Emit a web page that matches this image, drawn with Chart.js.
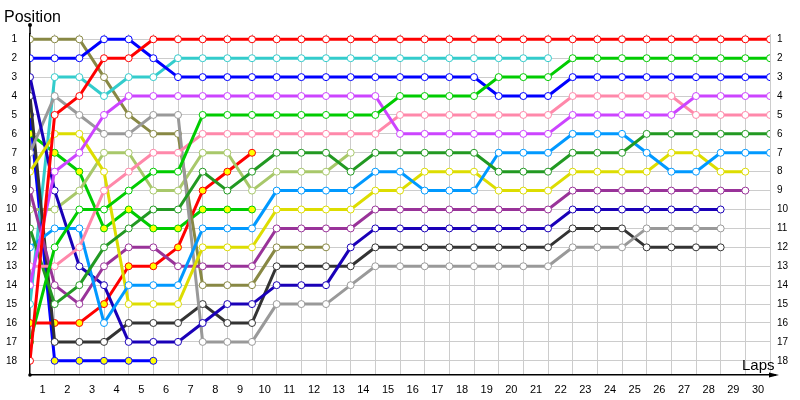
<!DOCTYPE html>
<html lang="en">
<head>
  <meta charset="UTF-8">
  <title>Lap chart</title>
  <script src="https://cdn.jsdelivr.net/npm/chart.js"></script>
  <style>
    html, body { margin: 0; padding: 0; background: #fff; }
    .wrap { width: 800px; height: 400px; }
  </style>
</head>
<body>
  <div class="wrap"><canvas id="lapChart" width="800" height="400"></canvas></div>

  <script>
    // position of each car after every lap (index 0 = grid)
    const lapNumbers = Array.from({ length: 31 }, (_, i) => i)
    const positionTicks = [1, 2, 3, 4, 5, 6, 7, 8, 9, 10, 11, 12, 13, 14, 15, 16, 17, 18]

    const olive = [1, 1, 1, 3, 5, 6, 6, 14, 14, 14, 12, 12, 12]
    const blue = [2, 2, 2, 1, 1, 2, 3, 3, 3, 3, 3, 3, 3, 3, 3, 3, 3, 3, 3, 4, 4, 4, 3, 3, 3, 3, 3, 3, 3, 3, 3]
    const indigo = [3, 9, 13, 14, 17, 17, 17, 16, 15, 15, 14, 14, 14, 12, 11, 11, 11, 11, 11, 11, 11, 11, 10, 10, 10, 10, 10, 10, 10]
    const darkGrey = [4, 17, 17, 17, 16, 16, 16, 15, 16, 16, 13, 13, 13, 13, 12, 12, 12, 12, 12, 12, 12, 12, 11, 11, 11, 12, 12, 12, 12]
    const blue2 = [5, 18, 18, 18, 18, 18]
    const green2 = [6, 7, 8, 11, 10, 11, 11, 10, 10, 10]
    const grey = [7, 4, 5, 6, 6, 5, 5, 17, 17, 17, 15, 15, 15, 14, 13, 13, 13, 13, 13, 13, 13, 13, 12, 12, 12, 11, 11, 11, 11]
    const yellow = [8, 6, 6, 8, 15, 15, 15, 12, 12, 12, 10, 10, 10, 10, 9, 9, 8, 8, 8, 9, 9, 9, 8, 8, 8, 8, 7, 7, 8, 8]
    const darkPurple = [9, 14, 15, 13, 12, 12, 13, 13, 13, 13, 11, 11, 11, 11, 10, 10, 10, 10, 10, 10, 10, 10, 9, 9, 9, 9, 9, 9, 9, 9]
    const lightGreen = [10, 10, 9, 7, 7, 9, 9, 7, 7, 9, 8, 8, 8, 7]
    const darkGreen = [11, 15, 14, 12, 11, 10, 10, 8, 9, 8, 7, 7, 7, 8, 7, 7, 7, 7, 7, 8, 8, 8, 7, 7, 7, 6, 6, 6, 6, 6, 6]
    const lightBlue = [12, 11, 11, 16, 14, 14, 14, 11, 11, 11, 9, 9, 9, 9, 8, 8, 9, 9, 9, 7, 7, 7, 6, 6, 6, 7, 8, 8, 7, 7, 7]
    const pink = [13, 13, 12, 9, 8, 7, 7, 6, 6, 6, 6, 6, 6, 6, 6, 5, 5, 5, 5, 5, 5, 5, 4, 4, 4, 4, 4, 5, 5, 5, 5]
    const magenta = [14, 8, 7, 5, 4, 4, 4, 4, 4, 4, 4, 4, 4, 4, 4, 6, 6, 6, 6, 6, 6, 6, 5, 5, 5, 5, 5, 4, 4, 4, 4]
    const cyan = [15, 3, 3, 4, 3, 3, 2, 2, 2, 2, 2, 2, 2, 2, 2, 2, 2, 2, 2, 2, 2, 2]
    const red2 = [16, 16, 16, 15, 13, 13, 12, 9, 8, 7]
    const green = [17, 12, 10, 10, 9, 8, 8, 5, 5, 5, 5, 5, 5, 5, 5, 4, 4, 4, 4, 3, 3, 3, 2, 2, 2, 2, 2, 2, 2, 2, 2]
    const red = [18, 5, 4, 2, 2, 1, 1, 1, 1, 1, 1, 1, 1, 1, 1, 1, 1, 1, 1, 1, 1, 1, 1, 1, 1, 1, 1, 1, 1, 1, 1]

    const series = [
      { label: 'Red', data: red, color: '#ff0000' },
      { label: 'Green', data: green, color: '#00cc00' },
      { label: 'Blue', data: blue, color: '#0000ff' },
      { label: 'Magenta', data: magenta, color: '#cc44ff' },
      { label: 'Pink', data: pink, color: '#ff88aa' },
      { label: 'Dark green', data: darkGreen, color: '#229922' },
      { label: 'Light blue', data: lightBlue, color: '#0099ff' },
      { label: 'Yellow', data: yellow, color: '#dddd00' },
      { label: 'Dark purple', data: darkPurple, color: '#993399' },
      { label: 'Indigo', data: indigo, color: '#1a00b8' },
      { label: 'Grey', data: grey, color: '#999999' },
      { label: 'Dark grey', data: darkGrey, color: '#333333' },
      { label: 'Cyan', data: cyan, color: '#33cccc' },
      { label: 'Light green', data: lightGreen, color: '#a8c86a' },
      { label: 'Olive', data: olive, color: '#888844' },
      { label: 'Red 2', data: red2, color: '#ff0000', fill: '#ffff00' },
      { label: 'Green 2', data: green2, color: '#00cc00', fill: '#ffff00' },
      { label: 'Blue 2', data: blue2, color: '#0000ff', fill: '#ffff00' }
    ]

    const datasets = series.map(s => ({
      label: s.label,
      data: s.data.map((p, i) => ({ x: lapNumbers[i], y: p })),
      borderColor: s.color,
      borderWidth: 3,
      tension: 0,
      pointRadius: 3.5,
      pointBorderWidth: 1,
      pointBorderColor: s.color,
      pointBackgroundColor: s.fill || '#ffffff'
    }))

    const setTicks = scale => { scale.ticks = positionTicks.map(v => ({ value: v })) }

    // axis titles, top arrow dot and the x arrow head
    const decorations = {
      id: 'decorations',
      afterDraw (chart) {
        const { ctx, chartArea } = chart
        ctx.save()
        ctx.fillStyle = '#000'
        ctx.strokeStyle = '#000'
        ctx.lineWidth = 1.5
        ctx.beginPath()
        ctx.moveTo(chartArea.left, chartArea.top)
        ctx.lineTo(chartArea.left, 25)
        ctx.stroke()
        ctx.beginPath()
        ctx.arc(chartArea.left, 25, 2, 0, Math.PI * 2)
        ctx.fill()
        ctx.beginPath()
        ctx.arc(chartArea.left, chartArea.bottom, 1.8, 0, Math.PI * 2)
        ctx.fill()
        ctx.beginPath()
        ctx.moveTo(chartArea.right, chartArea.bottom)
        ctx.lineTo(776, chartArea.bottom)
        ctx.stroke()
        ctx.beginPath()
        ctx.moveTo(779, chartArea.bottom)
        ctx.lineTo(769, chartArea.bottom - 2.5)
        ctx.lineTo(769, chartArea.bottom + 2.5)
        ctx.closePath()
        ctx.fill()
        ctx.font = '16px "Liberation Sans", Arial, sans-serif'
        ctx.textBaseline = 'alphabetic'
        ctx.textAlign = 'left'
        ctx.fillText('Position', 4, 22)
        ctx.font = '15px "Liberation Sans", Arial, sans-serif'
        ctx.fillText('Laps', 742, 370)
        ctx.restore()
      }
    }

    Chart.defaults.font.family = '"Liberation Sans", Arial, sans-serif'
    Chart.defaults.color = '#000'

    new Chart(document.getElementById('lapChart'), {
      type: 'line',
      data: { datasets },
      options: {
        responsive: false,
        animation: false,
        layout: { padding: { top: 34, left: 0, right: 0, bottom: 0 } },
        plugins: { legend: { display: false }, tooltip: { enabled: false } },
        scales: {
          x: {
            type: 'linear',
            min: 0,
            max: 30,
            afterFit: scale => { scale.height = 25 },
            border: { color: '#000', width: 1.5 },
            grid: { color: ctx => ctx.tick && ctx.tick.value === 0 ? 'rgba(0,0,0,0)' : '#cccccc', drawTicks: false },
            ticks: {
              stepSize: 1,
              autoSkip: false,
              maxRotation: 0,
              padding: 8,
              labelOffset: -12,
              font: { size: 11 },
              callback: v => v === 0 ? '' : v
            }
          },
          y: {
            type: 'linear',
            position: 'left',
            reverse: true,
            min: 0.72,
            max: 18.75,
            afterBuildTicks: setTicks,
            afterFit: scale => { scale.width = 30 },
            border: { color: '#000', width: 1.5 },
            grid: { color: '#cccccc', drawTicks: false },
            ticks: { padding: 13, font: { size: 10 } }
          },
          y2: {
            type: 'linear',
            position: 'right',
            reverse: true,
            min: 0.72,
            max: 18.75,
            afterBuildTicks: setTicks,
            afterFit: scale => { scale.width = 30 },
            border: { display: false },
            grid: { display: false, drawTicks: false },
            ticks: { padding: 7, font: { size: 10 } }
          }
        }
      },
      plugins: [decorations]
    })
  </script>
</body>
</html>
